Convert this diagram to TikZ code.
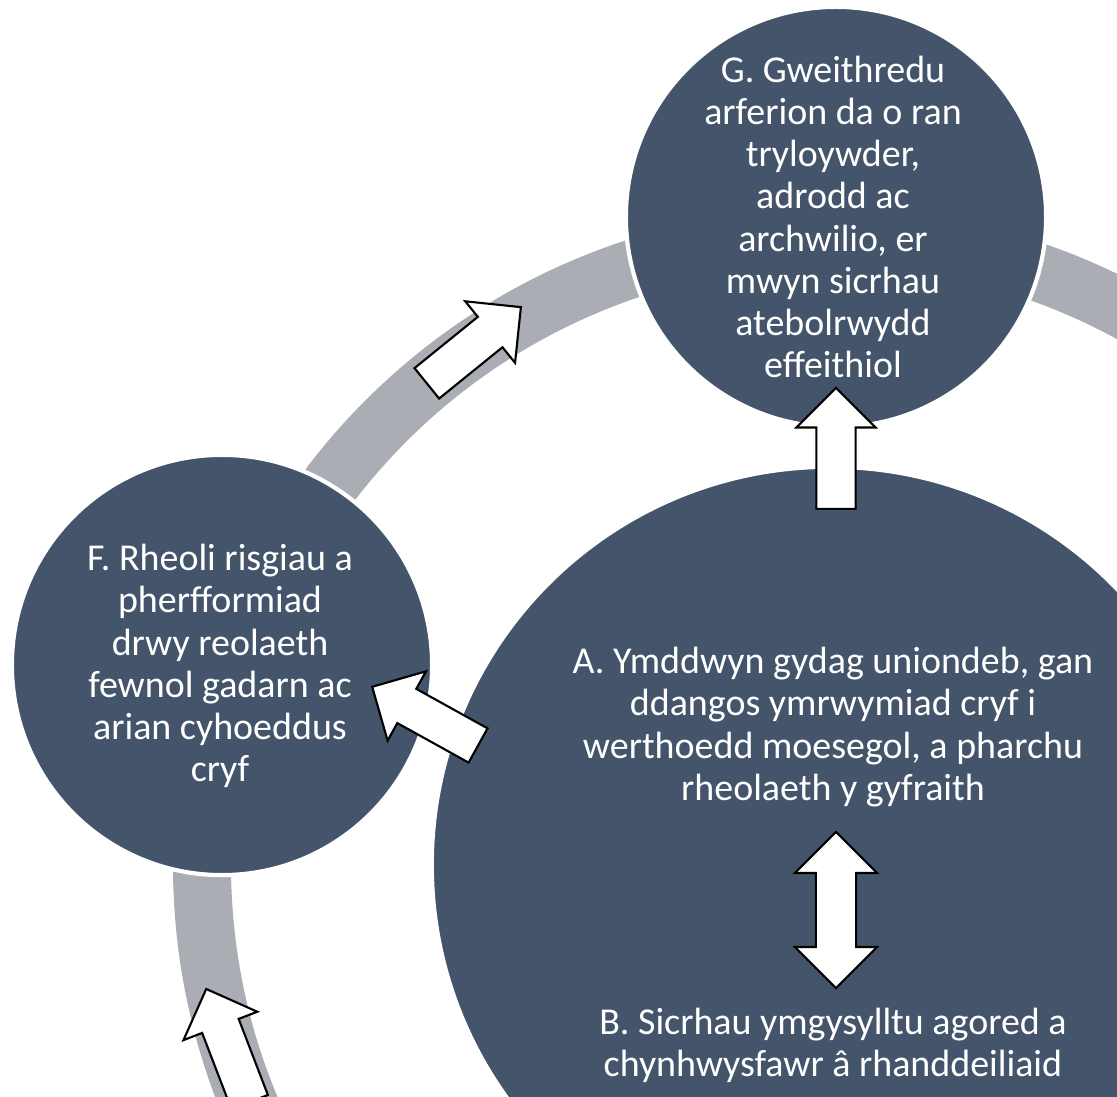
\documentclass[tikz,border=0pt]{standalone}
\usepackage{fontspec}
\setmainfont{Carlito}
\usetikzlibrary{shapes.arrows}
\definecolor{slate}{HTML}{44546A}
\definecolor{ringgray}{RGB}{170,173,180}
\tikzset{
  bubble/.style={circle, fill=slate, draw=white, line width=1.2pt, inner sep=0pt},
  label text/.style={text=white, align=center, font=\fontsize{10.8pt}{12pt}\selectfont},
  blockarrow/.style={single arrow, draw=black, fill=white, line width=0.6pt,
    inner xsep=0pt, inner ysep=0.185cm, single arrow head extend=0.2cm,
    minimum width=0.77cm, minimum height=1.21cm},
  twoway/.style={double arrow, draw=black, fill=white, line width=0.6pt,
    inner xsep=0pt, inner ysep=0.19cm, double arrow head extend=0.21cm,
    minimum width=0.8cm, minimum height=1.56cm},
}
\begin{document}
\begin{tikzpicture}[x=0.01cm,y=0.01cm]
    \newcommand{\ringrad}{628} % radius of the grey cycle
    \newcommand{\bubsize}{4.2cm}

    \useasboundingbox (0,0) rectangle (1117,-1097);
    \clip (0,0) rectangle (1117,-1097);

    % grey cycle
    \coordinate (mid) at (830,-865);
    \draw[ringgray, line width=0.58cm] (mid) circle[radius=\ringrad];

    % circles
    \node[bubble, minimum size=7.96cm] (hub) at (mid) {};
    \node[bubble, minimum size=\bubsize] (G) at (836,-217) {};
    \node[bubble, minimum size=\bubsize] (F) at (222,-665) {};

    % texts
    \node[label text] (Gtext) at (833,-217) {G. Gweithredu\\arferion da o ran\\tryloywder,\\adrodd ac\\archwilio, er\\mwyn sicrhau\\atebolrwydd\\effeithiol};
    \node[label text] (Ftext) at (220,-666) {F. Rheoli risgiau a\\pherfformiad\\drwy reolaeth\\fewnol gadarn ac\\arian cyhoeddus\\cryf};
    \node[label text] (A) at (833,-727) {A. Ymddwyn gydag uniondeb, gan\\ddangos ymrwymiad cryf i\\werthoedd moesegol, a pharchu\\rheolaeth y gyfraith};
    \node[label text] (B) at (833,-1045) {B. Sicrhau ymgysylltu agored a\\chynhwysfawr â rhanddeiliaid};

    % arrows (tail point and direction)
    \foreach \nm/\px/\py/\ang in {cycFG/426/384/39, cycEF/250/1103/111, hubF/479/746/151, hubG/836/510/90}
      \node[blockarrow, rotate=\ang, anchor=tail] (\nm) at (\px,-\py) {};
    \node[twoway, rotate=90] (AB) at (836,-910) {};
\end{tikzpicture}
\end{document}
